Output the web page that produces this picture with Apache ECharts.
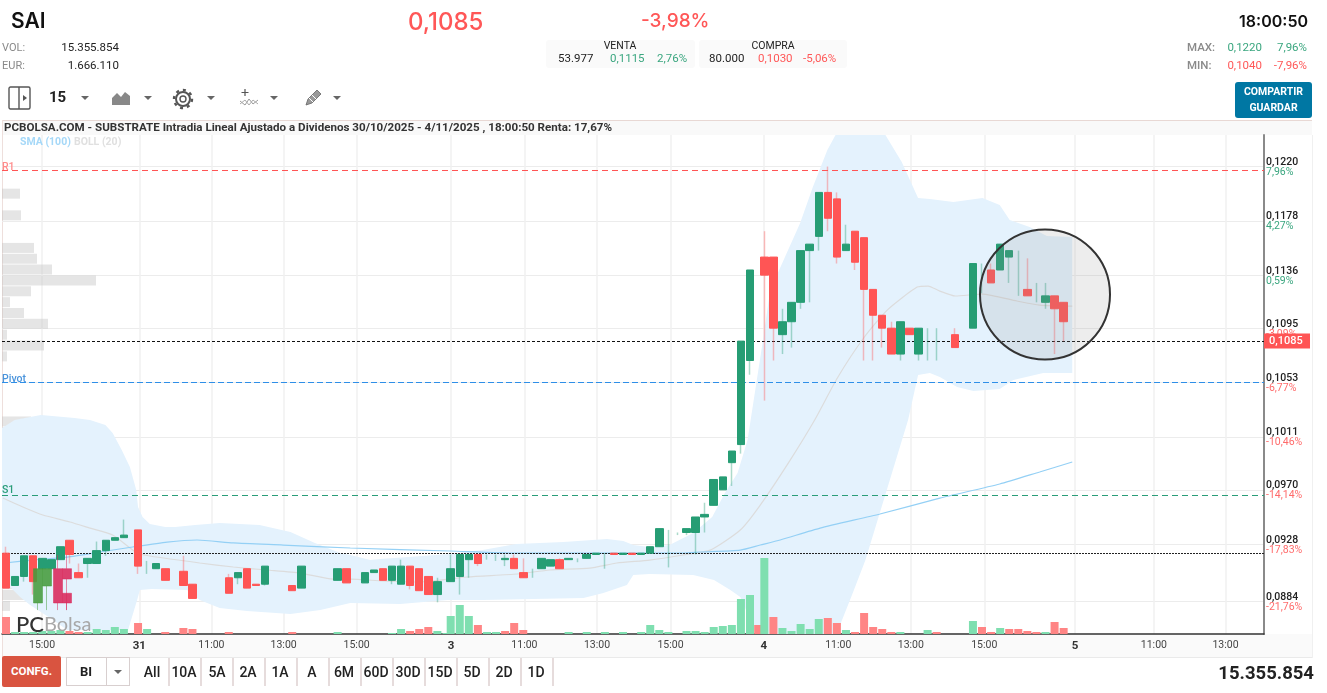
<!DOCTYPE html>
<html>
<head>
<meta charset="utf-8">
<title>SAI</title>
<script src="https://cdn.jsdelivr.net/npm/echarts@6/dist/echarts.min.js"></script>
<style>
  html, body { margin: 0; padding: 0; background: #fff; width: 1327px; height: 693px; overflow: hidden; font-family: Roboto, sans-serif; color: #222; }
  #chart { position: absolute; left: 0; top: 0; width: 1327px; height: 693px; }
  .t { position: absolute; white-space: nowrap; line-height: 1; }
  .c { text-align: center; transform: translateX(-50%); }
  .red { color: #ff5757; }
  .green { color: #3aa67f; }
  .gray { color: #8a8a8a; }
  .box { position: absolute; background: #fafafa; border-radius: 3px; }
  .caret { position: absolute; width: 0; height: 0; border-left: 4px solid transparent; border-right: 4px solid transparent; border-top: 4px solid #666; }
  .sep { position: absolute; top: 658px; width: 2px; height: 28px; background: #e6dcdc; }
  .rng { position: absolute; top: 665px; font-size: 14px; font-weight: 500; line-height: 1; transform: translateX(-50%); color: #222; }
</style>
</head>
<body>
<!-- bands under the chart -->
<div style="position:absolute;left:2px;top:120px;width:1310px;height:15px;background:#f9f9f9;border-top:1px solid #e8d8d4;box-sizing:border-box"></div>
<div style="position:absolute;left:2px;top:634px;width:1310px;height:24px;background:#fafafa;border-bottom:1px solid #eaeaea;box-sizing:border-box"></div>
<div style="position:absolute;left:2px;top:120px;width:1px;height:538px;background:#eedfdc"></div>
<div style="position:absolute;left:1312px;top:135px;width:1px;height:523px;background:#f0f0f0"></div>

<div id="chart"></div>

<!-- header -->
<div class="t" style="left:11px;top:8px;font:600 21px Inter,sans-serif;color:#111">SAI</div>
<div class="t red" style="left:408px;top:7px;font:500 24px Inter,sans-serif">0,1085</div>
<div class="t red" style="left:641px;top:9px;font:500 19px Inter,sans-serif">-3,98%</div>
<div class="t" style="right:19px;top:11px;font:600 16px Inter,sans-serif;color:#111">18:00:50</div>

<div class="t gray" style="left:2px;top:42px;font-size:11px">VOL:</div>
<div class="t" style="right:1208px;top:42px;font-size:11.5px">15.355.854</div>
<div class="t gray" style="left:2px;top:60px;font-size:11px">EUR:</div>
<div class="t" style="right:1208px;top:60px;font-size:11.5px">1.666.110</div>

<div class="box" style="left:546px;top:40px;width:149px;height:28px"></div>
<div class="box" style="left:699px;top:40px;width:148px;height:28px"></div>
<div class="t c" style="left:620px;top:41px;font-size:10.5px">VENTA</div>
<div class="t c" style="left:773px;top:41px;font-size:10.5px">COMPRA</div>
<div class="t" style="left:558px;top:53px;font-size:11.5px">53.977</div>
<div class="t green" style="left:610px;top:53px;font-size:11.5px">0,1115</div>
<div class="t green" style="left:657px;top:53px;font-size:11.5px">2,76%</div>
<div class="t" style="left:709px;top:53px;font-size:11.5px">80.000</div>
<div class="t red" style="left:758px;top:53px;font-size:11.5px">0,1030</div>
<div class="t red" style="left:803px;top:53px;font-size:11.5px">-5,06%</div>

<div class="t gray" style="left:1187px;top:42px;font-size:11.5px;font-weight:500">MAX:</div>
<div class="t green" style="right:65px;top:42px;font-size:11.5px">0,1220</div>
<div class="t green" style="right:20px;top:42px;font-size:11.5px">7,96%</div>
<div class="t gray" style="left:1187px;top:60px;font-size:11.5px;font-weight:500">MIN:</div>
<div class="t red" style="right:65px;top:60px;font-size:11.5px">0,1040</div>
<div class="t red" style="right:20px;top:60px;font-size:11.5px">-7,96%</div>

<div style="position:absolute;left:1235px;top:82px;width:77px;height:36px;background:#0077a3;border-radius:3px;color:#fff;font:700 10.5px/16px Roboto,sans-serif;text-align:center;padding-top:2px;box-sizing:border-box">COMPARTIR<br>GUARDAR</div>

<!-- toolbar -->
<svg style="position:absolute;left:8px;top:86px" width="23" height="24"><rect x="1" y="1" width="21" height="22" rx="1.5" fill="none" stroke="#555" stroke-width="1.4"/><line x1="11" y1="1" x2="11" y2="23" stroke="#555" stroke-width="1.4"/><path d="M15 9 L19 12 L15 15 Z" fill="#555"/></svg>
<div class="t" style="left:49px;top:90px;font-size:15px;font-weight:700">15</div>
<div class="caret" style="left:81px;top:96px"></div>
<svg style="position:absolute;left:112px;top:90px" width="19" height="15"><path d="M0 15 L0 8 L5 3 L9 7 L13 2 L18 6 L18 15 Z" fill="#888"/></svg>
<div class="caret" style="left:144px;top:96px"></div>
<svg style="position:absolute;left:172px;top:88px" width="22" height="22"><circle cx="11" cy="11" r="7" fill="none" stroke="#555" stroke-width="2"/><circle cx="11" cy="11" r="3" fill="none" stroke="#555" stroke-width="1.4"/><circle cx="11" cy="11" r="9" fill="none" stroke="#555" stroke-width="2.4" stroke-dasharray="3 4"/></svg>
<div class="caret" style="left:207px;top:96px"></div>
<svg style="position:absolute;left:239px;top:88px" width="20" height="20"><path d="M6 1 V8 M2.5 4.5 H9.5" stroke="#555" stroke-width="1.2"/><path d="M1 13 L6 17 L10 11 L14 16 L19 12" fill="none" stroke="#999" stroke-width="1"/><path d="M1 16 L6 12 L10 17 L14 12 L19 16" fill="none" stroke="#aaa" stroke-width="1"/></svg>
<div class="caret" style="left:270px;top:96px"></div>
<svg style="position:absolute;left:304px;top:88px" width="19" height="19"><path d="M2 17 L4 11 L13 2 L17 6 L8 15 Z" fill="#999" stroke="#666" stroke-width="0.8"/><path d="M5 10 L10 15 M8 7 L13 12" stroke="#fff" stroke-width="1"/></svg>
<div class="caret" style="left:333px;top:96px"></div>

<div class="t" style="left:4px;top:122px;font-size:11.6px;font-weight:700;color:#333">PCBOLSA.COM - SUBSTRATE Intradia Lineal Ajustado a Dividenos 30/10/2025 - 4/11/2025 , 18:00:50 Renta: 17,67%</div>

<!-- bottom bar -->
<div style="position:absolute;left:2px;top:656px;width:59px;height:31px;background:#d95440;border-radius:2px;color:#fff;font:700 11.5px/31px Roboto,sans-serif;text-align:center">CONFG.</div>
<div style="position:absolute;left:66px;top:657px;width:64px;height:29px;border:1px solid #d8cfcf;box-sizing:border-box"></div>
<div style="position:absolute;left:106px;top:657px;width:1px;height:29px;background:#d8cfcf"></div>
<div class="t" style="left:80px;top:665px;font-size:13px;font-weight:700">BI</div>
<div class="caret" style="left:114px;top:670px"></div>
<div class="rng" style="left:152px">All</div><div class="sep" style="left:168px"></div>
<div class="rng" style="left:184px">10A</div><div class="sep" style="left:200px"></div>
<div class="rng" style="left:217px">5A</div><div class="sep" style="left:232px"></div>
<div class="rng" style="left:248px">2A</div><div class="sep" style="left:264px"></div>
<div class="rng" style="left:280px">1A</div><div class="sep" style="left:296px"></div>
<div class="rng" style="left:312px">A</div><div class="sep" style="left:328px"></div>
<div class="rng" style="left:344px">6M</div><div class="sep" style="left:360px"></div>
<div class="rng" style="left:376px">60D</div><div class="sep" style="left:392px"></div>
<div class="rng" style="left:408px">30D</div><div class="sep" style="left:424px"></div>
<div class="rng" style="left:440px">15D</div><div class="sep" style="left:456px"></div>
<div class="rng" style="left:472px">5D</div><div class="sep" style="left:488px"></div>
<div class="rng" style="left:504px">2D</div><div class="sep" style="left:520px"></div>
<div class="rng" style="left:536px">1D</div><div class="sep" style="left:552px"></div>
<div class="t" style="right:13px;top:664px;font-size:18.5px;font-weight:700;color:#222">15.355.854</div>

<script>
// slot = one 15 min candle, sessions start where each day opens on the axis
const sessionStart = [0.44, 15.0, 49.47, 84.05];

// [slot in session, open, close, low, high]
const candlesOct30 = [
  [0, .0921, .0894, .0894, .0926], [1, .0896, .0903, .0896, .0903], [2, .0903, .0919, .0899, .0919],
  [3, .0919, .0899, .0889, .0919], [4, .0909, .0917, .0909, .0917], [5, .0909, .0916, .0909, .0916],
  [6, .0916, .0926, .0916, .0926], [7, .0931, .0920, .0913, .0931], [8, .0906, .0902, .0902, .0913],
  [9, .0913, .0917, .0902, .0917], [10, .0913, .0923, .0913, .0930], [11, .0923, .0931, .0919, .0931],
  [12, .0931, .0933, .0931, .0933], [13, .0933, .0935, .0933, .0947]
];
const candlesOct31 = [
  [0, .0939, .0911, .0905, .0939], [1, .0912, .0912, .0905, .0915], [2, .0909, .0913, .0909, .0913],
  [3, .0909, .0900, .0900, .0909], [5, .0907, .0896, .0896, .0919], [6, .0897, .0886, .0886, .0897],
  [10, .0902, .0890, .0890, .0905], [11, .0902, .0906, .0897, .0906], [12, .0909, .0894, .0894, .0909],
  [13, .0897, .0896, .0896, .0897], [14, .0897, .0911, .0896, .0911], [17, .0896, .0892, .0892, .0896],
  [18, .0894, .0911, .0894, .0911], [22, .0900, .0909, .0900, .0909], [23, .0909, .0898, .0898, .0909],
  [25, .0898, .0906, .0898, .0906], [26, .0906, .0908, .0906, .0908], [27, .0909, .0900, .0900, .0909],
  [28, .0900, .0911, .0897, .0911], [29, .0897, .0911, .0897, .0916], [30, .0911, .0896, .0893, .0911],
  [31, .0909, .0892, .0892, .0909], [32, .0903, .0889, .0889, .0903], [33, .0889, .0899, .0883, .0902]
];
const candlesNov3 = [
  [0, .0899, .0909, .0899, .0920], [1, .0903, .0920, .0889, .0920], [2, .0916, .0920, .0902, .0920],
  [3, .0920, .0913, .0911, .0920], [4, .0917, .0917, .0916, .0920], [5, .0917, .0917, .0915, .0920],
  [6, .0916, .0917, .0911, .0920], [7, .0917, .0909, .0909, .0920], [8, .0906, .0902, .0902, .0917],
  [9, .0905, .0905, .0902, .0909], [10, .0909, .0917, .0909, .0917], [11, .0911, .0916, .0911, .0916],
  [12, .0916, .0909, .0909, .0917], [13, .0916, .0917, .0916, .0917], [14, .0915, .0915, .0914, .0917],
  [15, .0917, .0920, .0917, .0920], [16, .0920, .0921, .0920, .0921], [17, .0915, .0915, .0909, .0921],
  [18, .0921, .0920, .0920, .0921], [19, .0920, .0921, .0920, .0921], [20, .0921, .0920, .0920, .0921],
  [21, .0920, .0921, .0920, .0921], [22, .0921, .0926, .0921, .0926], [23, .0926, .0940, .0926, .0940],
  [24, .0925, .0925, .0910, .0939], [25, .0936, .0936, .0935, .0937], [26, .0937, .0940, .0935, .0940],
  [27, .0937, .0949, .0920, .0949], [28, .0949, .0951, .0937, .0960], [29, .0958, .0978, .0958, .0978],
  [30, .0970, .0980, .0970, .0980], [31, .0991, .1000, .0973, .1000], [32, .1005, .1085, .0998, .1085],
  [33, .1070, .1140, .1059, .1140]
];
const candlesNov4 = [
  [0, .1150, .1136, .1039, .1170], [1, .1150, .1095, .1070, .1150], [2, .1090, .1100, .1075, .1110],
  [3, .1100, .1115, .1080, .1115], [4, .1115, .1155, .1110, .1155], [5, .1155, .1160, .1115, .1160],
  [6, .1166, .1200, .1155, .1200], [7, .1200, .1180, .1170, .1220], [8, .1195, .1150, .1145, .1200],
  [9, .1155, .1160, .1155, .1175], [10, .1170, .1146, .1140, .1170], [11, .1165, .1125, .1070, .1165],
  [12, .1125, .1105, .1070, .1125], [13, .1105, .1095, .1080, .1105], [14, .1095, .1075, .1075, .1100],
  [15, .1075, .1100, .1070, .1100], [16, .1095, .1090, .1090, .1095], [17, .1075, .1095, .1070, .1095],
  [18, .1080, .1080, .1070, .1095], [19, .1080, .1080, .1070, .1095], [21, .1090, .1080, .1080, .1095],
  [23, .1095, .1145, .1095, .1145], [24, .1130, .1130, .1122, .1145], [25, .1140, .1130, .1130, .1145],
  [26, .1140, .1160, .1140, .1160], [27, .1150, .1155, .1130, .1155], [28, .1140, .1140, .1120, .1155],
  [29, .1125, .1120, .1120, .1149], [30, .1125, .1125, .1115, .1130], [31, .1115, .1120, .1110, .1130],
  [32, .1120, .1110, .1075, .1120], [33, .1115, .1100, .1085, .1115]
];
const candleDays = [candlesOct30, candlesOct31, candlesNov3, candlesNov4];

// [slot in session, volume in thousands], negative = red bar
const volOct30 = [[0,-170],[1,20],[2,20],[3,20],[4,30],[5,30],[6,40],[7,-30],[8,-20],[9,20],[10,50],[11,40],[12,70],[13,50]];
const volOct31 = [[0,-110],[1,50],[3,-20],[5,-60],[6,-50],[10,-20],[17,-20],[22,20],[28,10],[29,50],[30,-30],[31,-50],[32,-70],[33,30],[34,10]];
const volNov3 = [[0,180],[1,290],[2,180],[3,-90],[4,20],[5,20],[6,-30],[7,-110],[8,-40],[13,20],[15,20],[17,20],[19,20],[21,20],[22,90],[23,40],[24,20],[26,30],[27,30],[28,20],[29,70],[30,80],[31,90],[32,350],[33,390],[33.9,-90]];
const volNov4 = [[0,760],[1,-170],[2,60],[3,30],[4,100],[5,50],[6,150],[7,-160],[8,-110],[9,40],[10,-20],[11,-210],[12,-70],[13,-50],[14,-20],[15,20],[18,40],[19,-20],[23,130],[24,-70],[25,-20],[26,60],[27,-50],[28,-50],[29,-30],[30,-20],[31,20],[32,-120],[33,-60]];
const volDays = [volOct30, volOct31, volNov3, volNov4];

// bollinger + sma, [axis slot, price]
const bollUpper = [[0,.10178],[1.4,.1024],[3.1,.10263],[4.3,.10278],[8,.10255],[9.7,.1024],[11.4,.10201],[12.2,.10139],[13.2,.10008],[14.1,.09876],[14.8,.09698],[15,.09567],[15.5,.0949],[16.3,.09435],[18,.09412],[19.1,.09412],[21.3,.09428],[24,.09443],[28.4,.09428],[31.8,.09374],[34.5,.09289],[37.3,.09211],[38.4,.09196],[40.6,.09157],[41.7,.09165],[49.4,.09203],[53,.09234],[56.7,.09281],[61.9,.09296],[66.7,.09319],[68.5,.09304],[69.6,.09273],[71.4,.09258],[73.6,.09273],[76.2,.09366],[78.3,.0949],[79.7,.09675],[81.1,.0983],[82.2,.10085],[83.9,.10858],[84.7,.11245],[88,.11763],[89.4,.12041],[91,.12328],[91.9,.12444],[93.5,.1258],[95.5,.1258],[97.4,.12444],[99.2,.12235],[101,.11956],[102.3,.11949],[104.9,.11925],[108.1,.11956],[110,.11902],[111.1,.11786],[113.3,.11732],[115.2,.11663],[118,.11655]];
const bollLower = [[0,.09064],[.9,.08948],[2,.08871],[3.1,.08809],[5.3,.08709],[7.2,.08616],[10.8,.08616],[13.9,.08616],[14.9,.08848],[15.2,.08925],[16.5,.08933],[20.4,.08925],[21.8,.08848],[24,.08786],[27,.08763],[31.8,.0874],[35.1,.0877],[38.4,.08825],[43.9,.08817],[49.1,.08848],[53,.08848],[64.1,.08863],[66.3,.08902],[68.9,.08964],[69.6,.09041],[71.4,.09049],[76.2,.09041],[78.5,.09002],[80.3,.08925],[81.4,.08871],[82.5,.08693],[83.4,.08538],[88,.08306],[90.7,.08461],[92.1,.08593],[92.4,.08654],[93.8,.08902],[95.2,.09157],[99.9,.1024],[101,.10588],[102.3,.10603],[103.4,.10572],[105.3,.10495],[107.1,.10464],[110,.10479],[111.5,.10549],[114.8,.10603],[118,.10603]];
const bollMid = [[.1,.09637],[2.3,.09567],[4.5,.09505],[7.5,.09451],[9.7,.09404],[12.2,.0935],[14.9,.09211],[16.3,.09188],[21.8,.09134],[25.5,.09103],[29.2,.0908],[32.9,.09056],[36.5,.0901],[38.4,.0901],[42,.08995],[45.8,.08987],[51.3,.09026],[56.8,.09049],[60.4,.0908],[64.8,.09095],[67.8,.09134],[71.4,.09157],[75.1,.09196],[78.1,.09234],[81.4,.09389],[83.6,.09582],[86.9,.0993],[89.6,.1024],[92.1,.10565],[95,.10874],[97.6,.1109],[100.9,.11268],[102.1,.11276],[103.4,.11237],[105.1,.11199],[108.1,.11214],[111.9,.1116],[114.4,.11129],[118,.11121]];
const sma100 = [[.3,.09134],[3.4,.09157],[7.2,.0918],[10.8,.09219],[14.4,.09258],[18.2,.09296],[21.5,.09312],[25.5,.09289],[31,.09273],[38.4,.0925],[49.4,.09227],[56.8,.09211],[64.1,.09211],[75.1,.09211],[77,.09219],[81.4,.09234],[83.6,.09273],[85.8,.09312],[90.2,.09404],[96.8,.09513],[103.4,.09636],[110,.09745],[114.4,.09838],[118,.09915]];

// leftover dark bars over the first session, [axis slot, open, close, low, high]
const overlayGreen = [[3.97,.08825,.0909,.0877,.0909],[4.96,.08956,.0909,.0877,.0909]];
const overlayCrimson = [[6.17,.0909,.08825,.0877,.09196],[7.16,.0909,.0901,.0877,.09196],[7.16,.0890,.08825,.0877,.0890]];

// volume by price, one entry per band from the top of the chart
const profileVol = [0,0,0,0,0,18,0,19,0,0,32,35,50,94,29,8,22,46,5,42,5,0,0,0,0,0,29,10,0,41,0,29,0,13,28,13,31,15,128,83,33,35,36,8,0,0];

const yTicks = [.1220,.1178,.1136,.1095,.1053,.1011,.0970,.0928,.0884];
const yPct = ['7,96%','4,27%','0,59%','-3,09%','-6,77%','-10,46%','-14,14%','-17,83%','-21,76%'];
const xTicks = [4.42,15.14,23.09,31.05,39.1,49.5,57.6,65.6,73.7,84,92.2,100.2,108.3,118.3,127,134.9];
const xLabels = ['15:00','31','11:00','13:00','15:00','3','11:00','13:00','15:00','4','11:00','13:00','15:00','5','11:00','13:00'];

const r1Level = .1217, pivotLevel = .1053, s1Level = .0966, closeLevel = .1085, prevLevel = .0921;

const UP = '#269d74', DOWN = '#ff5555';

// flatten the sessions on to the axis
const rows = [];
candleDays.forEach((day, d) => day.forEach((c) => rows.push([sessionStart[d] + c[0], c[1], c[2], c[3], c[4]])));
const bodies = rows.filter((r) => r[1] !== r[2]).map((r) => [r[0], r[1], r[2], Math.min(r[1], r[2]), Math.max(r[1], r[2])]);
const wickUp = rows.filter((r) => r[2] >= r[1]).map((r) => [r[0], r[3], r[4], r[3], r[4]]);
const wickDown = rows.filter((r) => r[2] < r[1]).map((r) => [r[0], r[3], r[4], r[3], r[4]]);
const volData = [];
volDays.forEach((day, d) => day.forEach((v) => {
  volData.push({
    value: [sessionStart[d] + v[0], Math.abs(v[1])],
    itemStyle: { color: v[1] > 0 ? '#7fdfb0' : '#ff8585' }
  });
}));

const price = (v) => v.toFixed(4).replace('.', ',');

const chartDom = document.getElementById('chart');
const myChart = echarts.init(chartDom);

const option = {
  animation: false,
  textStyle: { fontFamily: 'Roboto, sans-serif' },
  grid: [
    { left: 2, top: 135, width: 1262, height: 499 },
    { left: 2, top: 134, width: 1262, height: 499 }
  ],
  xAxis: [
    {
      type: 'value', gridIndex: 0, min: 0, max: 139.14,
      axisLine: { onZero: false, lineStyle: { color: '#333', width: 1.5 } },
      axisTick: { show: false, customValues: xTicks },
      splitLine: { show: true, lineStyle: { color: '#f1f1f1', width: 1.5 } },
      axisLabel: {
        customValues: xTicks, margin: 6, hideOverlap: false,
        formatter: (v) => {
          const s = xLabels[xTicks.indexOf(v)];
          return s.length < 3 ? '{d|' + s + '}' : '{h|' + s + '}';
        },
        rich: {
          d: { fontSize: 11.5, fontWeight: 700, color: '#333' },
          h: { fontSize: 10.5, color: '#444' }
        }
      }
    },
    { type: 'value', gridIndex: 1, min: 0, max: 1262, show: false }
  ],
  yAxis: [
    {
      type: 'value', gridIndex: 0, position: 'right', min: .08585, max: .12444,
      axisLine: { show: true, onZero: false, lineStyle: { color: '#8a8a8a', width: 2 } },
      axisTick: { show: false, customValues: yTicks },
      splitLine: { show: true, lineStyle: { color: '#ececec', width: 1.2 } },
      axisLabel: {
        customValues: yTicks, margin: 2, align: 'left', padding: [2, 0, 0, 0],
        formatter: (v) => {
          const i = yTicks.indexOf(v);
          return '{p|' + price(v) + '}\n{' + (yPct[i][0] === '-' ? 'n' : 'u') + '|' + yPct[i] + '}';
        },
        rich: {
          p: { fontSize: 10.5, color: '#222', lineHeight: 10, fontWeight: 500 },
          u: { fontSize: 10.5, color: '#3aa67f', lineHeight: 10 },
          n: { fontSize: 10.5, color: '#ff6b6b', lineHeight: 10 }
        }
      }
    },
    { type: 'value', gridIndex: 0, min: 0, max: 4990, show: false },
    { type: 'category', gridIndex: 1, inverse: true, show: false, data: profileVol.map((v, i) => i) }
  ],
  graphic: [
    {
      type: 'circle', z: 50, silent: true,
      shape: { cx: 1045, cy: 294.5, r: 65 },
      style: { fill: 'rgba(150,150,150,0.17)', stroke: '#333', lineWidth: 2 }
    },
    { type: 'text', z: 50, silent: true, left: 20, top: 137, style: { text: 'SMA (100)', fill: '#a5d8f8', font: '700 10.5px Roboto' } },
    { type: 'text', z: 50, silent: true, left: 74, top: 137, style: { text: 'BOLL (20)', fill: '#e0e0e0', font: '700 10.5px Roboto' } },
    { type: 'text', z: 50, silent: true, left: 16, top: 614, style: { text: 'PC', fill: '#333', font: '500 22px Lato, sans-serif' } },
    { type: 'text', z: 50, silent: true, left: 44, top: 615, style: { text: 'Bolsa', fill: '#a8a8a8', font: '400 20px Lato, sans-serif' } }
  ],
  series: [
    {
      name: 'Perfil', type: 'bar', xAxisIndex: 1, yAxisIndex: 2, z: 1, silent: true,
      data: profileVol.map((v) => v || null), barWidth: 10,
      itemStyle: { color: 'rgba(190,190,190,0.4)' }
    },
    {
      name: 'BOLL', type: 'custom', xAxisIndex: 0, yAxisIndex: 0, z: 2, silent: true,
      data: [0],
      renderItem: (params, api) => {
        const pts = bollUpper.concat(bollLower.slice().reverse()).map((p) => api.coord(p));
        return {
          type: 'polygon',
          shape: { points: pts },
          style: { fill: '#e4f2fd' },
          clipPath: { type: 'rect', shape: { x: params.coordSys.x, y: params.coordSys.y, width: params.coordSys.width, height: params.coordSys.height } }
        };
      }
    },
    {
      name: 'BOLL mid', type: 'line', xAxisIndex: 0, yAxisIndex: 0, z: 3, silent: true,
      data: bollMid, symbol: 'none', smooth: 0.2,
      lineStyle: { color: '#dcdcdc', width: 1.2 }
    },
    {
      name: 'SMA (100)', type: 'line', xAxisIndex: 0, yAxisIndex: 0, z: 3, silent: true,
      data: sma100, symbol: 'none', smooth: 0.2,
      lineStyle: { color: '#94d0f5', width: 1.2 },
      markLine: {
        silent: true, symbol: 'none', animation: false, precision: 5,
        data: [
          { yAxis: r1Level, lineStyle: { color: '#ff5555', type: [6, 4], width: 1 }, label: { formatter: 'R1', position: 'insideStartTop', distance: [0, -2], color: '#ff8b8b', fontSize: 10.5, fontWeight: 500 } },
          { yAxis: pivotLevel, lineStyle: { color: '#2e8fe8', type: [6, 3], width: 1 }, label: { formatter: 'Pivot', position: 'insideStartTop', distance: [0, -2], color: '#4a94dc', fontSize: 10.5, fontWeight: 500 } },
          { yAxis: s1Level, lineStyle: { color: '#2a9d78', type: [6, 4], width: 1 }, label: { formatter: 'S1', position: 'insideStartTop', distance: [0, -1], color: '#2a9d78', fontSize: 10.5, fontWeight: 500 } },
          { yAxis: prevLevel, lineStyle: { color: '#222', type: [2, 1], width: 1 }, label: { show: false } },
          { yAxis: closeLevel, lineStyle: { color: '#111', type: [3, 2], width: 1 }, label: { formatter: '0,1085', position: 'end', distance: 0, color: '#fff', backgroundColor: '#ff5555', fontSize: 11, fontWeight: 500, padding: [2, 4, 2, 5], width: 37 } }
        ]
      }
    },
    {
      name: 'Volumen', type: 'bar', xAxisIndex: 0, yAxisIndex: 1, z: 4, silent: true,
      data: volData, barWidth: 8
    },
    {
      name: 'Mechas up', type: 'candlestick', xAxisIndex: 0, yAxisIndex: 0, z: 5, silent: true,
      data: wickUp, barWidth: 1,
      itemStyle: { color: UP, borderColor: UP, borderWidth: 1.5, opacity: 0.38 }
    },
    {
      name: 'Mechas down', type: 'candlestick', xAxisIndex: 0, yAxisIndex: 0, z: 5, silent: true,
      data: wickDown, barWidth: 1,
      itemStyle: { color: DOWN, borderColor: DOWN, borderWidth: 1.5, opacity: 0.38 }
    },
    {
      name: 'SAI', type: 'candlestick', xAxisIndex: 0, yAxisIndex: 0, z: 6, silent: true,
      data: bodies, barWidth: 8,
      itemStyle: { color: UP, color0: DOWN, borderColor: UP, borderColor0: DOWN, borderWidth: 1 }
    },
    {
      name: 'Overlay verde', type: 'candlestick', xAxisIndex: 0, yAxisIndex: 0, z: 7, silent: true,
      data: overlayGreen, barWidth: 9,
      itemStyle: { color: 'rgba(70,155,60,0.88)', color0: 'rgba(70,155,60,0.88)', borderColor: 'rgba(70,155,60,0.5)', borderColor0: 'rgba(70,155,60,0.5)', borderWidth: 1 }
    },
    {
      name: 'Overlay rojo', type: 'candlestick', xAxisIndex: 0, yAxisIndex: 0, z: 7, silent: true,
      data: overlayCrimson, barWidth: 9,
      itemStyle: { color: 'rgba(217,39,90,0.88)', color0: 'rgba(217,39,90,0.88)', borderColor: 'rgba(217,39,90,0.5)', borderColor0: 'rgba(217,39,90,0.5)', borderWidth: 1 }
    }
  ]
};

myChart.setOption(option);
window.addEventListener('resize', () => myChart.resize());
</script>
</body>
</html>
